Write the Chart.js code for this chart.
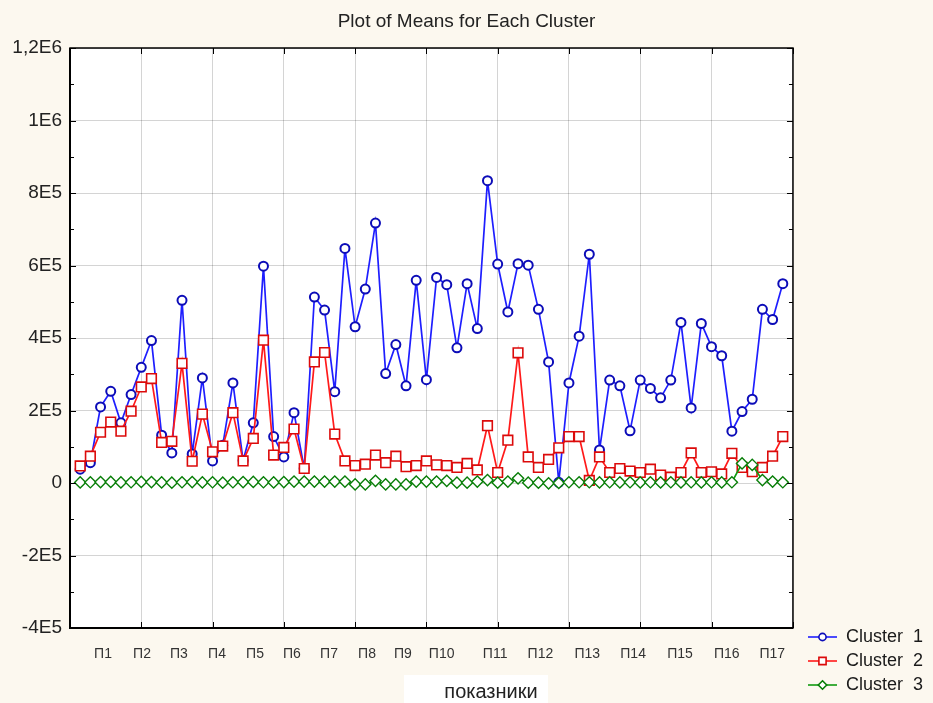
<!DOCTYPE html>
<html>
<head>
<meta charset="utf-8">
<script src="https://cdn.jsdelivr.net/npm/chart.js@4.4.1/dist/chart.umd.min.js"></script>
<style>
  html, body { margin: 0; padding: 0; background: #fcf8ef; }
  #wrap { width: 933px; height: 703px; position: relative; }
</style>
</head>
<body>
<div id="wrap"><canvas id="c"></canvas></div>
<script>
// ---------------- data ----------------
const chartTitle = 'Plot of Means for Each Cluster';
const xAxisTitle = 'показники';
const seriesNames = ['Cluster  1', 'Cluster  2', 'Cluster  3'];

const cluster1 = [
  38000, 56000, 210000, 253000, 166000, 244000, 319000, 393000, 132000, 83000,
  504000, 80000, 290000, 61000, 104000, 276000, 62000, 166000, 598000, 128000,
  72000, 194000, 40000, 513000, 477000, 252000, 647000, 431000, 535000, 717000,
  302000, 382000, 268000, 559000, 285000, 567000, 547000, 373000, 550000, 426000,
  834000, 604000, 472000, 605000, 601000, 479000, 334000, 2000, 276000, 405000,
  631000, 91000, 284000, 268000, 144000, 284000, 261000, 235000, 284000, 443000,
  207000, 440000, 376000, 351000, 143000, 197000, 231000, 479000, 451000, 550000
];
const cluster2 = [
  47000, 74000, 140000, 168000, 143000, 198000, 265000, 288000, 112000, 115000,
  330000, 60000, 190000, 86000, 102000, 194000, 61000, 123000, 394000, 77000,
  98000, 149000, 40000, 334000, 360000, 135000, 61000, 48000, 52000, 77000,
  56000, 74000, 45000, 48000, 61000, 50000, 48000, 43000, 54000, 36000,
  158000, 29000, 118000, 359000, 72000, 43000, 65000, 97000, 128000, 128000,
  7000, 72000, 29000, 40000, 33000, 29000, 38000, 22000, 16000, 29000,
  83000, 29000, 31000, 25000, 82000, 43000, 31000, 43000, 74000, 128000
];
const cluster3 = [
  1500, 2000, 2500, 3000, 1500, 2000, 3000, 2500, 1500, 1000,
  2000, 2500, 1500, 2000, 1000, 2000, 2500, 3000, 2000, 1500,
  2500, 4000, 4000, 4000, 4000, 4000, 4000, -4000, -4000, 6000,
  -4000, -4000, -4000, 4000, 4000, 4000, 6000, 1000, 1000, 4000,
  8000, 1000, 4000, 13000, 1000, 1000, -1000, 0, 2000, 2000,
  2000, 1500, 2000, 1500, 2000, 1500, 2000, 1500, 2000, 1500,
  2000, 1500, 2000, 1500, 2000, 54000, 50000, 8000, 4000, 2000
];

const indicatorLabels = ['П1','П2','П3','П4','П5','П6','П7','П8','П9','П10',
                         'П11','П12','П13','П14','П15','П16','П17'];
const indicatorTickPos = [3.24, 7.07, 10.7, 14.44, 18.17, 21.8, 25.44, 29.17, 32.7, 36.5,
                          41.75, 46.2, 50.8, 55.3, 59.9, 64.5, 68.96];
const yTickValues = [-400000, -200000, 0, 200000, 400000, 600000, 800000, 1000000, 1200000];
const yTickLabels = ['-4E5', '-2E5', '0', '2E5', '4E5', '6E5', '8E5', '1E6', '1,2E6'];

// ---------------- styles ----------------
const FONT = "'Liberation Sans', Arial, sans-serif";
const colors = [
  { line: '#1e1eff', mark: '#0c0cb8', style: 'circle', r: 4.5, bw: 2 },
  { line: '#ff1a1a', mark: '#dc0a0a', style: 'rect', r: 6.8, bw: 1.6 },
  { line: '#119a11', mark: '#087e08', style: 'rectRot', r: 5.6, bw: 1.4 }
];

function makeIcon(c) {
  const cv = document.createElement('canvas');
  cv.width = 38; cv.height = 12;
  const g = cv.getContext('2d');
  g.strokeStyle = c.line; g.lineWidth = 1.6;
  g.beginPath(); g.moveTo(9, 6); g.lineTo(38, 6); g.stroke();
  g.fillStyle = '#fff'; g.strokeStyle = c.mark; g.lineWidth = 1.6;
  const cx = 23.5, cy = 6;
  g.beginPath();
  if (c.style === 'circle') { g.arc(cx, cy, 3.6, 0, Math.PI * 2); }
  else if (c.style === 'rect') { g.rect(cx - 3.6, cy - 3.6, 7.2, 7.2); }
  else { g.moveTo(cx, cy - 4.2); g.lineTo(cx + 4.2, cy); g.lineTo(cx, cy + 4.2); g.lineTo(cx - 4.2, cy); g.closePath(); }
  g.fill(); g.stroke();
  return cv;
}
const legendIcons = colors.map(makeIcon);

const seriesData = [cluster1, cluster2, cluster3];
const datasets = seriesData.map((arr, k) => ({
  label: seriesNames[k],
  data: arr.map((v, i) => ({ x: i + 1, y: v })),
  xAxisID: 'x',
  yAxisID: 'y',
  order: 3 - k,
  borderColor: colors[k].line,
  borderWidth: 1.7,
  tension: 0,
  pointStyle: colors[k].style,
  pointRadius: colors[k].r,
  pointBorderWidth: colors[k].bw,
  pointBorderColor: colors[k].mark,
  pointBackgroundColor: '#ffffff'
}));

// ---------------- plugins ----------------
const backgroundPlugin = {
  id: 'bgPlugin',
  beforeDraw(chart) {
    const { ctx, chartArea: a } = chart;
    ctx.save();
    ctx.fillStyle = '#fcf8ef';
    ctx.fillRect(0, 0, chart.width, chart.height);
    ctx.fillStyle = '#ffffff';
    ctx.fillRect(a.left, a.top, a.right - a.left, a.bottom - a.top);
    ctx.restore();
  }
};

const framePlugin = {
  id: 'framePlugin',
  afterDraw(chart) {
    const { ctx, chartArea: a, scales } = chart;
    ctx.save();
    ctx.strokeStyle = '#000';
    ctx.lineWidth = 1.5;
    ctx.strokeRect(a.left, a.top, a.right - a.left, a.bottom - a.top);
    ctx.lineWidth = 2;
    ctx.beginPath();
    ctx.moveTo(a.left, a.top); ctx.lineTo(a.left, a.bottom); ctx.lineTo(a.right, a.bottom);
    ctx.stroke();
    ctx.lineWidth = 1;
    ctx.beginPath();
    scales.y.ticks.forEach(t => {
      const py = Math.round(scales.y.getPixelForValue(t.value)) + 0.5;
      const major = yTickValues.some(v => Math.abs(v - t.value) < 1);
      const len = major ? 6 : 4;
      ctx.moveTo(a.left, py); ctx.lineTo(a.left + len, py);
      ctx.moveTo(a.right, py); ctx.lineTo(a.right - len, py);
    });
    scales.x.ticks.forEach(t => {
      const px = Math.round(scales.x.getPixelForValue(t.value)) + 0.5;
      ctx.moveTo(px, a.bottom); ctx.lineTo(px, a.bottom - 6);
      ctx.moveTo(px, a.top); ctx.lineTo(px, a.top + 6);
    });
    ctx.stroke();
    const cx = 491, cy = 692;
    ctx.fillStyle = '#ffffff';
    ctx.fillRect(404, 675, 144, 28);
    ctx.fillStyle = '#222';
    ctx.font = '20px ' + FONT;
    ctx.textAlign = 'center';
    ctx.textBaseline = 'middle';
    ctx.fillText(xAxisTitle, cx, cy);
    ctx.restore();
  }
};

// ---------------- chart ----------------
new Chart(document.getElementById('c'), {
  type: 'line',
  data: { datasets },
  plugins: [backgroundPlugin, framePlugin],
  options: {
    responsive: true,
    maintainAspectRatio: false,
    animation: false,
    events: [],
    layout: { padding: { left: 0, right: 0, top: 0, bottom: 3 } },
    plugins: {
      title: {
        display: true,
        text: chartTitle,
        color: '#222',
        font: { family: FONT, size: 19, weight: 'normal' },
        padding: { top: 10, bottom: 15.2 }
      },
      legend: {
        display: true,
        position: 'right',
        align: 'end',
        labels: {
          usePointStyle: true,
          pointStyleWidth: 38,
          boxHeight: 12,
          padding: 6,
          color: '#1a1a1a',
          font: { family: FONT, size: 18, lineHeight: 1.1 },
          sort: (a, b) => a.datasetIndex - b.datasetIndex,
          generateLabels(chart) {
            const items = Chart.defaults.plugins.legend.labels.generateLabels(chart);
            items.forEach(it => { it.pointStyle = legendIcons[it.datasetIndex]; it.fontColor = '#1a1a1a'; });
            return items;
          }
        }
      },
      tooltip: { enabled: false }
    },
    scales: {
      x: {
        type: 'linear',
        position: 'bottom',
        min: 0, max: 71,
        ticks: { display: false, stepSize: 7 },
        grid: { color: 'rgba(0,0,0,0.17)', lineWidth: 1, drawTicks: false },
        border: { display: false },
        afterFit(s) { s.height = 0; }
      },
      xl: {
        type: 'linear',
        position: 'bottom',
        min: 0, max: 71,
        afterBuildTicks(s) { s.ticks = indicatorTickPos.map(v => ({ value: v })); },
        ticks: {
          autoSkip: false,
          maxRotation: 0,
          padding: 18,
          color: '#333',
          font: { family: FONT, size: 14 },
          callback: (v, i) => indicatorLabels[i]
        },
        grid: { display: false, drawTicks: false },
        border: { display: false },
        afterFit(s) { s.height = 72; }
      },
      y: {
        type: 'linear',
        position: 'left',
        min: -400000, max: 1200000,
        ticks: {
          stepSize: 100000,
          autoSkip: false,
          padding: 8,
          color: '#222',
          font: { family: FONT, size: 19 },
          callback: (v) => {
            const i = yTickValues.findIndex(t => Math.abs(t - v) < 1);
            return i >= 0 ? yTickLabels[i] : '';
          }
        },
        grid: {
          drawTicks: false,
          lineWidth: 1,
          color: (c) => (c.tick && yTickValues.some(t => Math.abs(t - c.tick.value) < 1)) ? 'rgba(0,0,0,0.17)' : 'rgba(0,0,0,0)'
        },
        border: { display: false },
        afterFit(s) { s.width = 70; }
      }
    }
  }
});
</script>
</body>
</html>
